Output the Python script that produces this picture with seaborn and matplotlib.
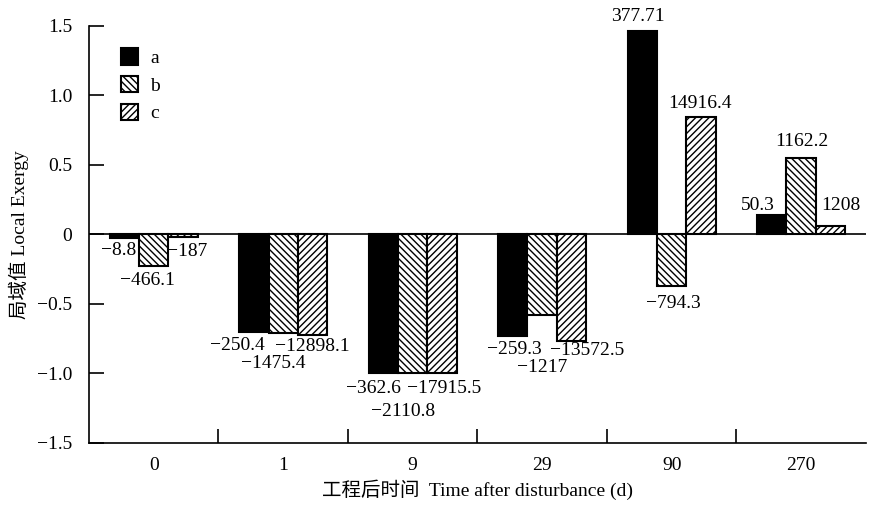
import seaborn as sns
import matplotlib.pyplot as plt
import pandas as pd
from matplotlib.ticker import FixedLocator, FuncFormatter

# ---- data ----
times = ['0', '1', '9', '29', '90', '270']
series = ['a', 'b', 'c']
# normalised bar heights
a_vals = [-0.03, -0.70, -1.00, -0.73, 1.46, 0.136]
b_vals = [-0.23, -0.71, -1.00, -0.58, -0.375, 0.55]
c_vals = [-0.02, -0.725, -1.00, -0.77, 0.84, 0.06]
# raw values printed on the bars
a_labels = ['−8.8', '−250.4', '−362.6', '−259.3', '377.71', '50.3']
b_labels = ['−466.1', '−1475.4', '−2110.8', '−1217', '−794.3', '1162.2']
c_labels = ['−187', '−12898.1', '−17915.5', '−13572.5', '14916.4', '1208']

df = pd.DataFrame({
    'time': times * 3,
    'series': [s for s in series for _ in times],
    'value': a_vals + b_vals + c_vals,
})

# label offsets (pixels) from bar end, per series / group
offsets = {
    'a': [(-6, -12), (-16, -14), (-10, -15), (2, -14), (-4, 15), (-14, 10)],
    'b': [(-6, -14), (-10, -30), (-10, -38), (0, -53), (2, -17), (1, 16)],
    'c': [(4, -14), (0, -11), (2, -15), (16, -9), (-1, 14), (10, 20)],
}

plt.rcParams['font.family'] = ['Liberation Serif', 'Noto Sans CJK SC']
plt.rcParams['font.size'] = 14
plt.rcParams['hatch.linewidth'] = 1.0
plt.rcParams['axes.unicode_minus'] = True

fig = plt.figure(figsize=(8.69, 5.05), dpi=100)
ax = fig.add_axes([0.1024, 0.1228, 0.894, 0.8267])

sns.barplot(data=df, x='time', y='value', hue='series', order=times,
            hue_order=series, palette=['black', 'white', 'white'],
            width=0.68, edgecolor='black', linewidth=1.5, saturation=1,
            legend=False, ax=ax)

hatches = ['', '\\\\\\\\\\', '/////']
labels_all = [a_labels, b_labels, c_labels]
for cont, h, s, labs in zip(ax.containers, hatches, series, labels_all):
    for bar, lab, (dx, dy) in zip(cont, labs, offsets[s]):
        bar.set_hatch(h)
        x = bar.get_x() + bar.get_width() / 2
        y = bar.get_y() + bar.get_height()
        ax.annotate(lab, xy=(x, y), xytext=(dx, dy), textcoords='offset pixels',
                    ha='center', va='center', fontsize=14)

ax.axhline(0, color='black', lw=1.2, zorder=5)

ax.set_xlim(-0.5, 5.5)
ax.set_ylim(-1.5, 1.5)
ax.set_yticks([-1.5, -1.0, -0.5, 0, 0.5, 1.0, 1.5])
ax.yaxis.set_major_formatter(FuncFormatter(
    lambda v, p: '0' if abs(v) < 1e-9 else f'{v:.1f}'.replace('-', '−')))
ax.xaxis.set_minor_locator(FixedLocator([0.5, 1.5, 2.5, 3.5, 4.5]))
ax.tick_params(axis='x', which='major', length=0, pad=10, labelsize=14)
ax.tick_params(axis='x', which='minor', direction='in', length=10, width=1.2)
ax.tick_params(axis='y', direction='in', length=11, width=1.2, pad=12, labelsize=14)

for sp in ['top', 'right']:
    ax.spines[sp].set_visible(False)
for sp in ['left', 'bottom']:
    ax.spines[sp].set_linewidth(1.2)

ax.set_xlabel('工程后时间  Time after disturbance (d)', fontsize=14, labelpad=4)
ax.set_ylabel('局域值 Local Exergy', fontsize=14, labelpad=6)

ax.legend(handles=list(ax.containers), labels=series, loc='upper left',
          bbox_to_anchor=(0.041, 0.945), frameon=False, borderpad=0,
          borderaxespad=0, handlelength=0.9, handleheight=0.9,
          handletextpad=0.6, labelspacing=0.45, fontsize=14)

fig.savefig('out.png', dpi=100)
